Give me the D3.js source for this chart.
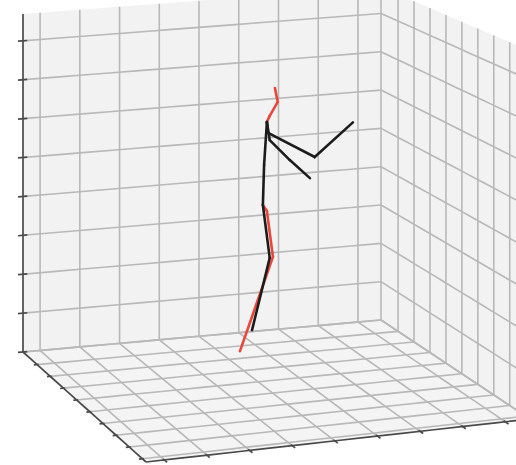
<!DOCTYPE html>
<html>
<head>
<meta charset="utf-8">
<script src="https://cdn.jsdelivr.net/npm/d3@7"></script>
<style>
  html, body { margin: 0; padding: 0; background: #ffffff; }
  svg { display: block; }
</style>
</head>
<body>
<svg id="chart" width="516" height="465"></svg>
<script>
// ---- axis limits and ticks (data units) ----
const xLimits = [-0.443, 0.458];
const yLimits = [-0.507, 0.427];   // back wall -> front edge
const zLimits = [0, 0.869];
const xTicks = [-0.4, -0.3, -0.2, -0.1, 0, 0.1, 0.2, 0.3, 0.4];
const yTicks = [-0.4, -0.3, -0.2, -0.1, 0, 0.1, 0.2, 0.3, 0.4];
const zTicks = [0, 0.1, 0.2, 0.3, 0.4, 0.5, 0.6, 0.7, 0.8];

// ---- skeleton joints ----
const jointNames = ["headTop", "nose", "neckR", "thorax", "spine", "pelvis",
  "kneeB", "footB", "hipR", "kneeR", "footR",
  "shoulderL", "elbowL", "wristL", "shoulderR", "elbowR", "wristR"];
const jointX = [0.135, 0.142, 0.122, 0.115, 0.108, 0.105,
  0.122, 0.078, 0.115, 0.130, 0.048,
  0.118, 0.234, 0.329, 0.122, 0.172, 0.222];
const jointY = [-0.358, -0.358, -0.358, -0.358, -0.358, -0.358,
  -0.358, -0.358, -0.358, -0.358, -0.358,
  -0.358, -0.358, -0.358, -0.358, -0.358, -0.358];
const jointZ = [0.666, 0.630, 0.596, 0.581, 0.472, 0.369,
  0.232, 0.051, 0.353, 0.234, 0.0,
  0.553, 0.480, 0.560, 0.534, 0.478, 0.427];

// bones as index pairs into the joint arrays
const redBones = [[2, 1], [1, 0], [5, 8], [8, 9], [9, 10], [3, 2]];
const blackBones = [[5, 4], [4, 3], [5, 6], [6, 7],
  [3, 11], [11, 12], [12, 13], [3, 14], [14, 15], [15, 16]];

// ---- projection: screen position of the eight corners of the axes box ----
// index order: [x][y][z], 0 = low limit, 1 = high limit
const boxCorners = {
  "000": [23, 352], "100": [381, 320], "001": [23, 14], "101": [381, -13],
  "010": [146, 462], "110": [530, 419], "011": [146, 114], "111": [530, 51]
};

const fx = d3.scaleLinear().domain(xLimits).range([0, 1]);
const fy = d3.scaleLinear().domain(yLimits).range([0, 1]);
const fz = d3.scaleLinear().domain(zLimits).range([0, 1]);

function projectUnit(a, b, c) {
  let u = 0, v = 0;
  for (const i of [0, 1]) for (const j of [0, 1]) for (const k of [0, 1]) {
    const w = (i ? a : 1 - a) * (j ? b : 1 - b) * (k ? c : 1 - c);
    const p = boxCorners["" + i + j + k];
    u += w * p[0]; v += w * p[1];
  }
  return [u, v];
}
const project = (x, y, z) => projectUnit(fx(x), fy(y), fz(z));

const svg = d3.select("#chart");
const line = d3.line();

// segment along one axis between two data values, sampled so it stays on the box
function seg(p0, p1) {
  const n = 12, pts = [];
  for (let t = 0; t <= n; t++) {
    const s = t / n;
    pts.push(project(p0[0] + (p1[0] - p0[0]) * s,
                     p0[1] + (p1[1] - p0[1]) * s,
                     p0[2] + (p1[2] - p0[2]) * s));
  }
  return line(pts);
}

const [x0, x1] = xLimits, [y0, y1] = yLimits, [z0, z1] = zLimits;

// ---- panes ----
const panes = [
  { fill: "#f2f2f2", pts: [[x0, y0, z0], [x1, y0, z0], [x1, y0, z1], [x0, y0, z1]] },
  { fill: "#f2f2f2", pts: [[x1, y0, z0], [x1, y1, z0], [x1, y1, z1], [x1, y0, z1]] },
  { fill: "#f4f4f4", pts: [[x0, y0, z0], [x1, y0, z0], [x1, y1, z0], [x0, y1, z0]] }
];
svg.append("g").selectAll("path").data(panes).join("path")
  .attr("d", d => line(d.pts.map(p => project(...p))) + "Z")
  .attr("fill", d => d.fill)
  .attr("stroke", "none");

// ---- grid lines ----
const grid = [];
xTicks.forEach(t => {
  grid.push([[t, y0, z0], [t, y0, z1]]);   // back wall
  grid.push([[t, y0, z0], [t, y1, z0]]);   // floor
});
yTicks.forEach(t => {
  grid.push([[x1, t, z0], [x1, t, z1]]);   // side wall
  grid.push([[x0, t, z0], [x1, t, z0]]);   // floor
});
zTicks.forEach(t => {
  grid.push([[x0, y0, t], [x1, y0, t]]);   // back wall
  grid.push([[x1, y0, t], [x1, y1, t]]);   // side wall
});
// pane edges
grid.push([[x1, y0, z0], [x1, y0, z1]]);
grid.push([[x0, y0, z0], [x1, y0, z0]]);
grid.push([[x1, y0, z0], [x1, y1, z0]]);

svg.append("g").selectAll("path").data(grid).join("path")
  .attr("d", d => seg(d[0], d[1]))
  .attr("fill", "none")
  .attr("stroke", "#b8b8b8")
  .attr("stroke-width", 1.6);

// ---- axis lines ----
const axes = [
  [[x0, y0, z0], [x0, y0, z1]],   // z axis
  [[x0, y0, z0], [x0, y1, z0]],   // y axis
  [[x0, y1, z0], [x1, y1, z0]]    // x axis
];
svg.append("g").selectAll("path").data(axes).join("path")
  .attr("d", d => seg(d[0], d[1]))
  .attr("fill", "none")
  .attr("stroke", "#4a4a4a")
  .attr("stroke-width", 1.7);

// ---- tick marks ----
const dx = (x1 - x0), dy = (y1 - y0);
const tickSegs = [];
zTicks.forEach(t => tickSegs.push([[x0 - 0.014 * dx, y0, t], [x0 + 0.012 * dx, y0, t]]));
yTicks.forEach(t => tickSegs.push([[x0 - 0.009 * dx, t, z0], [x0 + 0.004 * dx, t, z0]]));
xTicks.forEach(t => tickSegs.push([[t, y1 + 0.022 * dy, z0], [t, y1 - 0.01 * dy, z0]]));
svg.append("g").selectAll("path").data(tickSegs).join("path")
  .attr("d", d => line([project(...d[0]), project(...d[1])]))
  .attr("fill", "none")
  .attr("stroke", "#4a4a4a")
  .attr("stroke-width", 1.7);

// ---- skeleton ----
const joint = i => project(jointX[i], jointY[i], jointZ[i]);
const skel = svg.append("g").attr("fill", "none")
  .attr("stroke-linecap", "round").attr("stroke-linejoin", "round");
skel.selectAll("path.red").data(redBones).join("path").attr("class", "red")
  .attr("d", d => line([joint(d[0]), joint(d[1])]))
  .attr("stroke", "#e8473b").attr("stroke-width", 2.6);
skel.selectAll("path.black").data(blackBones).join("path").attr("class", "black")
  .attr("d", d => line([joint(d[0]), joint(d[1])]))
  .attr("stroke", "#1c1c1c").attr("stroke-width", 2.6);
</script>
</body>
</html>
